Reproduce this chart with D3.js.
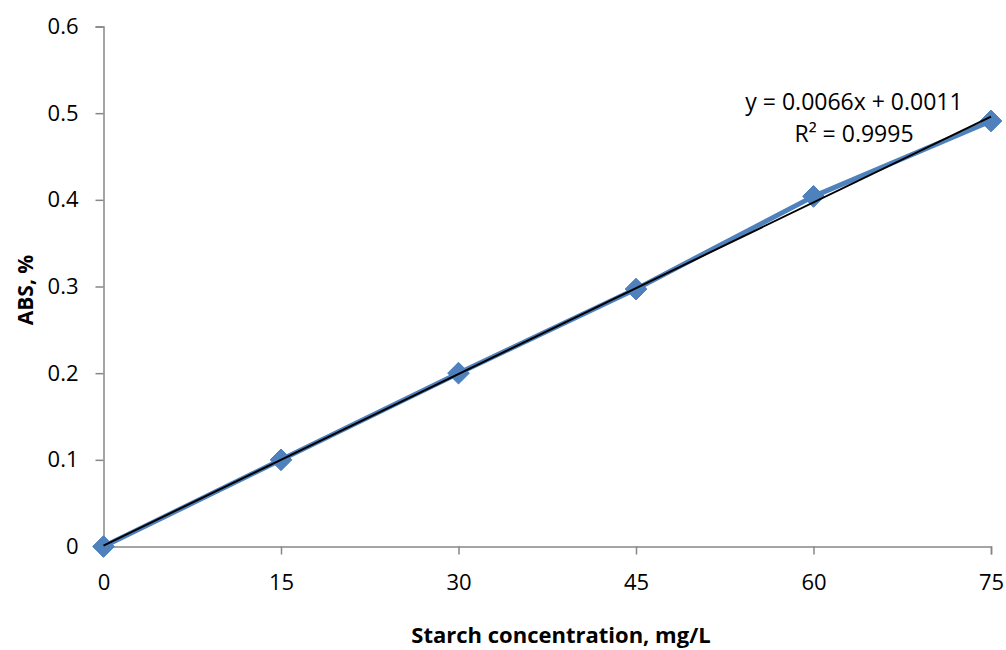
<!DOCTYPE html>
<html>
<head>
<script src="https://cdn.jsdelivr.net/npm/d3@7"></script>
<style>
  body { margin: 0; background: #fff; }
  text { font-family: "Open Sans", "Liberation Sans", sans-serif; fill: #000; }
</style>
</head>
<body>
<svg id="chart" width="1006" height="650"></svg>
<script>
// data
var concentrations = [0, 15, 30, 45, 60, 75];
var absValues = [0, 0.1, 0.2, 0.297, 0.404, 0.491];
var xTicks = [0, 15, 30, 45, 60, 75];
var yTicks = [0, 0.1, 0.2, 0.3, 0.4, 0.5, 0.6];
var slope = 0.0066, intercept = 0.0011;
var eqLines = ["y = 0.0066x + 0.0011", "R\u00b2 = 0.9995"];

var svg = d3.select("#chart");
var m = { left: 103.5, right: 991, top: 26.5, bottom: 546.5 };

var x = d3.scaleLinear().domain([0, 75]).range([m.left, m.right]);
var y = d3.scaleLinear().domain([0, 0.6]).range([m.bottom, m.top]);

var axisColor = "#868686";

// y axis
var yAxis = svg.append("g")
    .attr("transform", "translate(" + m.left + ",0)")
    .call(d3.axisLeft(y).tickValues(yTicks).tickSize(8).tickPadding(17)
        .tickFormat(function(d) { return d === 0 ? "0" : d3.format(".1f")(d); }));
// x axis
var xAxis = svg.append("g")
    .attr("transform", "translate(0," + m.bottom + ")")
    .call(d3.axisBottom(x).tickValues(xTicks).tickSize(8).tickPadding(20));

[xAxis, yAxis].forEach(function(g) {
    g.attr("font-size", null).attr("font-family", null);
    g.select(".domain").attr("stroke", axisColor).attr("stroke-width", 1.5);
    g.selectAll(".tick line").attr("stroke", axisColor).attr("stroke-width", 1.5);
    g.selectAll(".tick text").style("font-size", "22px").attr("fill", "#000");
});

// series line
var line = d3.line()
    .x(function(d, i) { return x(concentrations[i]); })
    .y(function(d) { return y(d); });

svg.append("path")
    .datum(absValues)
    .attr("d", line)
    .attr("fill", "none")
    .attr("stroke", "#4F81BD")
    .attr("stroke-width", 5)
    .attr("stroke-linejoin", "round");

// diamonds
svg.selectAll(".pt")
    .data(absValues)
    .enter().append("path")
    .attr("class", "pt")
    .attr("d", d3.symbol().type(d3.symbolDiamond2).size(300))
    .attr("transform", function(d, i) {
        return "translate(" + x(concentrations[i]) + "," + y(d) + ")";
    })
    .attr("fill", "#4F81BD")
    .attr("stroke", "#4A7EBB")
    .attr("stroke-width", 1);

// linear trendline
svg.append("line")
    .attr("x1", x(0)).attr("y1", y(intercept))
    .attr("x2", x(75)).attr("y2", y(slope * 75 + intercept))
    .attr("stroke", "#000")
    .attr("stroke-width", 2);

// equation
svg.selectAll(".eq")
    .data(eqLines)
    .enter().append("text")
    .attr("class", "eq")
    .attr("x", 854)
    .attr("y", function(d, i) { return 110 + i * 32; })
    .attr("text-anchor", "middle")
    .style("font-size", "23px")
    .text(function(d) { return d; });

// axis titles
svg.append("text")
    .attr("x", 561)
    .attr("y", 643)
    .attr("text-anchor", "middle")
    .style("font-size", "22px")
    .attr("font-weight", "bold")
    .text("Starch concentration, mg/L");

svg.append("text")
    .attr("transform", "translate(33,290) rotate(-90)")
    .attr("text-anchor", "middle")
    .style("font-size", "21px")
    .attr("font-weight", "bold")
    .text("ABS, %");
</script>
</body>
</html>
